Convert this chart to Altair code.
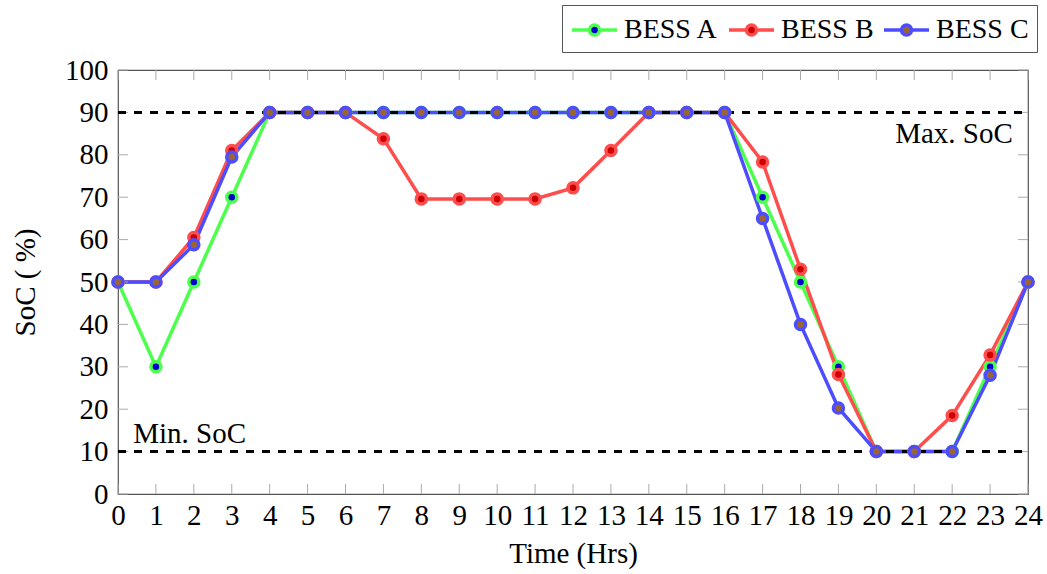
import altair as alt
import pandas as pd

hours = list(range(25))
bess_a = [50, 30, 50, 70, 90, 90, 90, 90, 90, 90, 90, 90, 90, 90, 90, 90, 90, 70, 50, 30, 10, 10, 10, 30, 50]
bess_b = [50, 50, 60.5, 81, 90, 90, 90, 83.8, 69.6, 69.6, 69.6, 69.6, 72.2, 81, 90, 90, 90, 78.3, 53, 28.2, 10, 10, 18.5, 32.8, 50]
bess_c = [50, 50, 58.8, 79.5, 90, 90, 90, 90, 90, 90, 90, 90, 90, 90, 90, 90, 90, 65, 40, 20.3, 10, 10, 10, 28, 50]
series_names = ["BESS A", "BESS B", "BESS C"]
line_colors = ["#4dff4d", "#ff4d4d", "#4d4dff"]
fill_colors = ["#0000cc", "#cc0000", "#996633"]
limit_values = [90, 10]
annot_text = ["Max. SoC", "Min. SoC"]
annot_x = [23.6, 0.4]
annot_y = [85.0, 14.2]
y_ticks = list(range(0, 101, 10))
x_ticks = hours

W, H = 910, 424
FONT = "Liberation Serif"
FS = 29
X_TITLE = "Time (Hrs)"
Y_TITLE = "SoC ( %)"

rows = []
for k, (name, vals) in enumerate(zip(series_names, [bess_a, bess_b, bess_c])):
    for h, v in zip(hours, vals):
        rows.append({"hour": h, "soc": v, "series": name, "order": k})
df = pd.DataFrame(rows)

xscale = alt.Scale(domain=[0, 24], nice=False, zero=False)
yscale = alt.Scale(domain=[0, 100], nice=False)
stroke_scale = alt.Scale(domain=series_names, range=line_colors)
fill_scale = alt.Scale(domain=series_names, range=fill_colors)

x_axis = alt.Axis(values=x_ticks, ticks=False, domain=False, grid=False, labelOverlap=False,
                  labelFontSize=FS, labelFont=FONT, labelColor="black", labelPadding=7,
                  title=X_TITLE, titleFontSize=FS, titleFont=FONT, titleFontWeight="normal",
                  titleColor="black", titlePadding=9, labelFlush=False, labelBound=False)
y_axis = alt.Axis(values=y_ticks, ticks=False, domain=False, grid=False, labelOverlap=False,
                  labelFontSize=FS, labelFont=FONT, labelColor="black", labelPadding=10,
                  title=Y_TITLE, titleFontSize=FS, titleFont=FONT, titleFontWeight="normal",
                  titleColor="black", titlePadding=24, labelFlush=False)

sym = "M-1,0H0.1667M0.8333,0H2M0.8333,0A0.3333,0.3333,0,1,1,0.1667,0A0.3333,0.3333,0,1,1,0.8333,0Z"
legend = alt.Legend(title=None, orient="none", legendX=444, legendY=-65, direction="horizontal",
                    columns=3, symbolType=sym, symbolSize=900, symbolStrokeWidth=3.5,
                    symbolOpacity=1,
                    labelFont=FONT, labelFontSize=28, labelColor="black", labelOffset=20,
                    columnPadding=3, padding=8, strokeColor="#555555", fillColor="white",
                    labelLimit=300)


def X(field):
    return alt.X(field, type="quantitative", scale=xscale, axis=x_axis, title=X_TITLE)


def Y(field):
    return alt.Y(field, type="quantitative", scale=yscale, axis=y_axis, title=Y_TITLE)


lines = alt.Chart(df).mark_line(strokeWidth=3.5).encode(
    x=X("hour"),
    y=Y("soc"),
    stroke=alt.Stroke("series:N", scale=stroke_scale, legend=legend),
    detail="series:N",
)

lim_df = pd.DataFrame({"v": limit_values, "xs": [0] * len(limit_values), "xe": [24] * len(limit_values)})
limits = alt.Chart(lim_df).mark_rule(color="black", strokeWidth=3, strokeDash=[8, 8]).encode(
    y=Y("v"),
    x=X("xs"),
    x2="xe:Q",
)

points = alt.Chart(df).mark_point(filled=True, size=100, strokeWidth=3.5, opacity=1).encode(
    x=X("hour"),
    y=Y("soc"),
    stroke=alt.Stroke("series:N", scale=stroke_scale, legend=legend),
    fill=alt.Fill("series:N", scale=fill_scale, legend=legend),
    order="order:Q",
)

ann_df = pd.DataFrame({"t": annot_text, "x": annot_x, "y": annot_y})
ann_right = alt.Chart(ann_df.iloc[[0]]).mark_text(align="right", baseline="middle", font=FONT,
                                                   fontSize=FS, color="black").encode(
    x=X("x"), y=Y("y"), text="t:N")
ann_left = alt.Chart(ann_df.iloc[[1]]).mark_text(align="left", baseline="middle", font=FONT,
                                                  fontSize=FS, color="black").encode(
    x=X("x"), y=Y("y"), text="t:N")

TICK = 10
TCOL = "#aaaaaa"
yt_df = pd.DataFrame({"v": y_ticks})
xt_df = pd.DataFrame({"v": x_ticks})
tick_left = alt.Chart(yt_df).mark_rule(color=TCOL, strokeWidth=1).encode(
    y=Y("v"), x=alt.value(0), x2=alt.value(TICK))
tick_right = alt.Chart(yt_df).mark_rule(color=TCOL, strokeWidth=1).encode(
    y=Y("v"), x=alt.value(W), x2=alt.value(W - TICK))
tick_bottom = alt.Chart(xt_df).mark_rule(color=TCOL, strokeWidth=1).encode(
    x=X("v"), y=alt.value(H), y2=alt.value(H - TICK))
tick_top = alt.Chart(xt_df).mark_rule(color=TCOL, strokeWidth=1).encode(
    x=X("v"), y=alt.value(0), y2=alt.value(TICK))

chart = alt.layer(
    lines, tick_left, tick_right, tick_bottom, tick_top,
    limits, points, ann_right, ann_left,
).properties(
    width=W, height=H,
    padding={"left": 118, "top": 70, "right": 19, "bottom": 80},
    autosize=alt.AutoSizeParams(type="none"),
    background="white",
).configure_view(stroke="#555555", strokeWidth=1.2).configure_axis(labelOverlap=False)

chart.save("out.html", embed_options={"renderer": "svg", "actions": False})
